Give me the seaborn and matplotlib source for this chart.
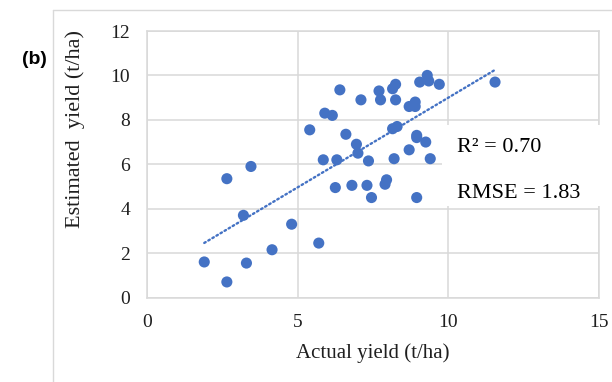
import matplotlib
matplotlib.use("Agg")
import matplotlib.pyplot as plt
import numpy as np
import pandas as pd
import seaborn as sns
from matplotlib.patches import Rectangle
from matplotlib.lines import Line2D

# Actual vs. estimated yield per field (t/ha)
actual = [1.9, 2.65, 3.3, 4.15, 4.8, 3.2, 2.65, 3.45, 5.7,
          5.85, 6.3, 6.95, 7.0, 7.35, 8.2, 6.25, 6.8, 7.3, 7.45,
          7.9, 7.95, 8.7, 9.4, 8.95, 6.4, 7.1, 7.7, 7.75, 8.15,
          8.25, 8.25, 5.9, 6.15, 5.4, 6.6, 8.15, 8.3, 9.05, 9.3,
          9.35, 9.7, 11.55, 8.7, 8.9, 8.9, 8.95, 8.95, 9.25]
estimated = [1.6, 0.7, 1.55, 2.15, 3.3, 3.7, 5.35, 5.9, 2.45,
             6.2, 6.2, 6.9, 6.5, 6.15, 6.25, 4.95, 5.05, 5.05, 4.5,
             5.1, 5.3, 6.65, 6.25, 4.5, 9.35, 8.9, 9.3, 8.9, 9.4,
             9.6, 8.9, 8.3, 8.2, 7.55, 7.35, 7.6, 7.7, 9.7, 10.0,
             9.75, 9.6, 9.7, 8.6, 8.8, 8.6, 7.3, 7.2, 7.0]

x_ticks = [0, 5, 10, 15]
y_ticks = [0, 2, 4, 6, 8, 10, 12]
r2_label = "R² = 0.70"
rmse_label = "RMSE = 1.83"
panel_label = "(b)"

blue = "#4472C4"
grey = "#d9d9d9"
text_col = "#1f1f1f"

sns.set_theme(style="whitegrid")
plt.rcParams["font.family"] = ["Liberation Serif", "DejaVu Serif"]

W, H = 612, 382
fig = plt.figure(figsize=(W / 100, H / 100), dpi=100)
fig.patch.set_facecolor("white")

# plot area in pixel units
left, right, bottom, top = 147, 599, 297.5, 31
ax = fig.add_axes([left / W, 1 - bottom / H, (right - left) / W, (bottom - top) / H])

df = pd.DataFrame({"actual": actual, "estimated": estimated})
sns.regplot(
    data=df, x="actual", y="estimated", ax=ax, ci=None, truncate=True, color=blue,
    scatter_kws=dict(s=64, edgecolor="none", alpha=1, zorder=5),
    line_kws=dict(lw=1.7, linestyle=(0, (0.7, 1.3)), dash_capstyle="round", zorder=4),
)

ax.set_xlim(x_ticks[0], x_ticks[-1])
ax.set_ylim(y_ticks[0], y_ticks[-1])
ax.set_xticks(x_ticks)
ax.set_yticks(y_ticks)
ax.grid(True, color=grey, lw=1.1)
ax.set_axisbelow(True)
for s in ax.spines.values():
    s.set_visible(True)
    s.set_color(grey)
    s.set_linewidth(1.1)
ax.tick_params(length=0, pad=12, labelsize=14, labelcolor=text_col)

ax.set_xlabel("Actual yield (t/ha)", fontsize=15, color=text_col, labelpad=9)
ax.set_ylabel("Estimated  yield (t/ha)", fontsize=16, color=text_col)
ax.yaxis.set_label_coords((85 - left) / (right - left), (bottom - 129) / (bottom - top))

# white panel behind the statistics
ax.add_patch(Rectangle(((442 - left) / (right - left), (bottom - 206) / (bottom - top)),
                       (604 - 442) / (right - left), (206 - 125) / (bottom - top),
                       transform=ax.transAxes, facecolor="white", edgecolor="none",
                       clip_on=False, zorder=3))
tx = (457 - left) / (right - left)
ax.text(tx, (bottom - 148) / (bottom - top), r2_label, transform=ax.transAxes,
        fontsize=16, color="black", va="center", ha="left", zorder=6)
ax.text(tx, (bottom - 193) / (bottom - top), rmse_label, transform=ax.transAxes,
        fontsize=16, color="black", va="center", ha="left", zorder=6)

# outer frame of the panel
fig.add_artist(Line2D([53 / W, 53 / W], [0, 1 - 10 / H], transform=fig.transFigure,
                      color=grey, lw=1))
fig.add_artist(Line2D([53 / W, 1], [1 - 10 / H, 1 - 10 / H], transform=fig.transFigure,
                      color=grey, lw=1))

fig.text(22 / W, 1 - 59 / H, panel_label, fontfamily=["Liberation Sans", "DejaVu Sans"],
         fontweight="bold", fontsize=14, color="black", va="center", ha="left")

fig.savefig("out.png", dpi=100)
